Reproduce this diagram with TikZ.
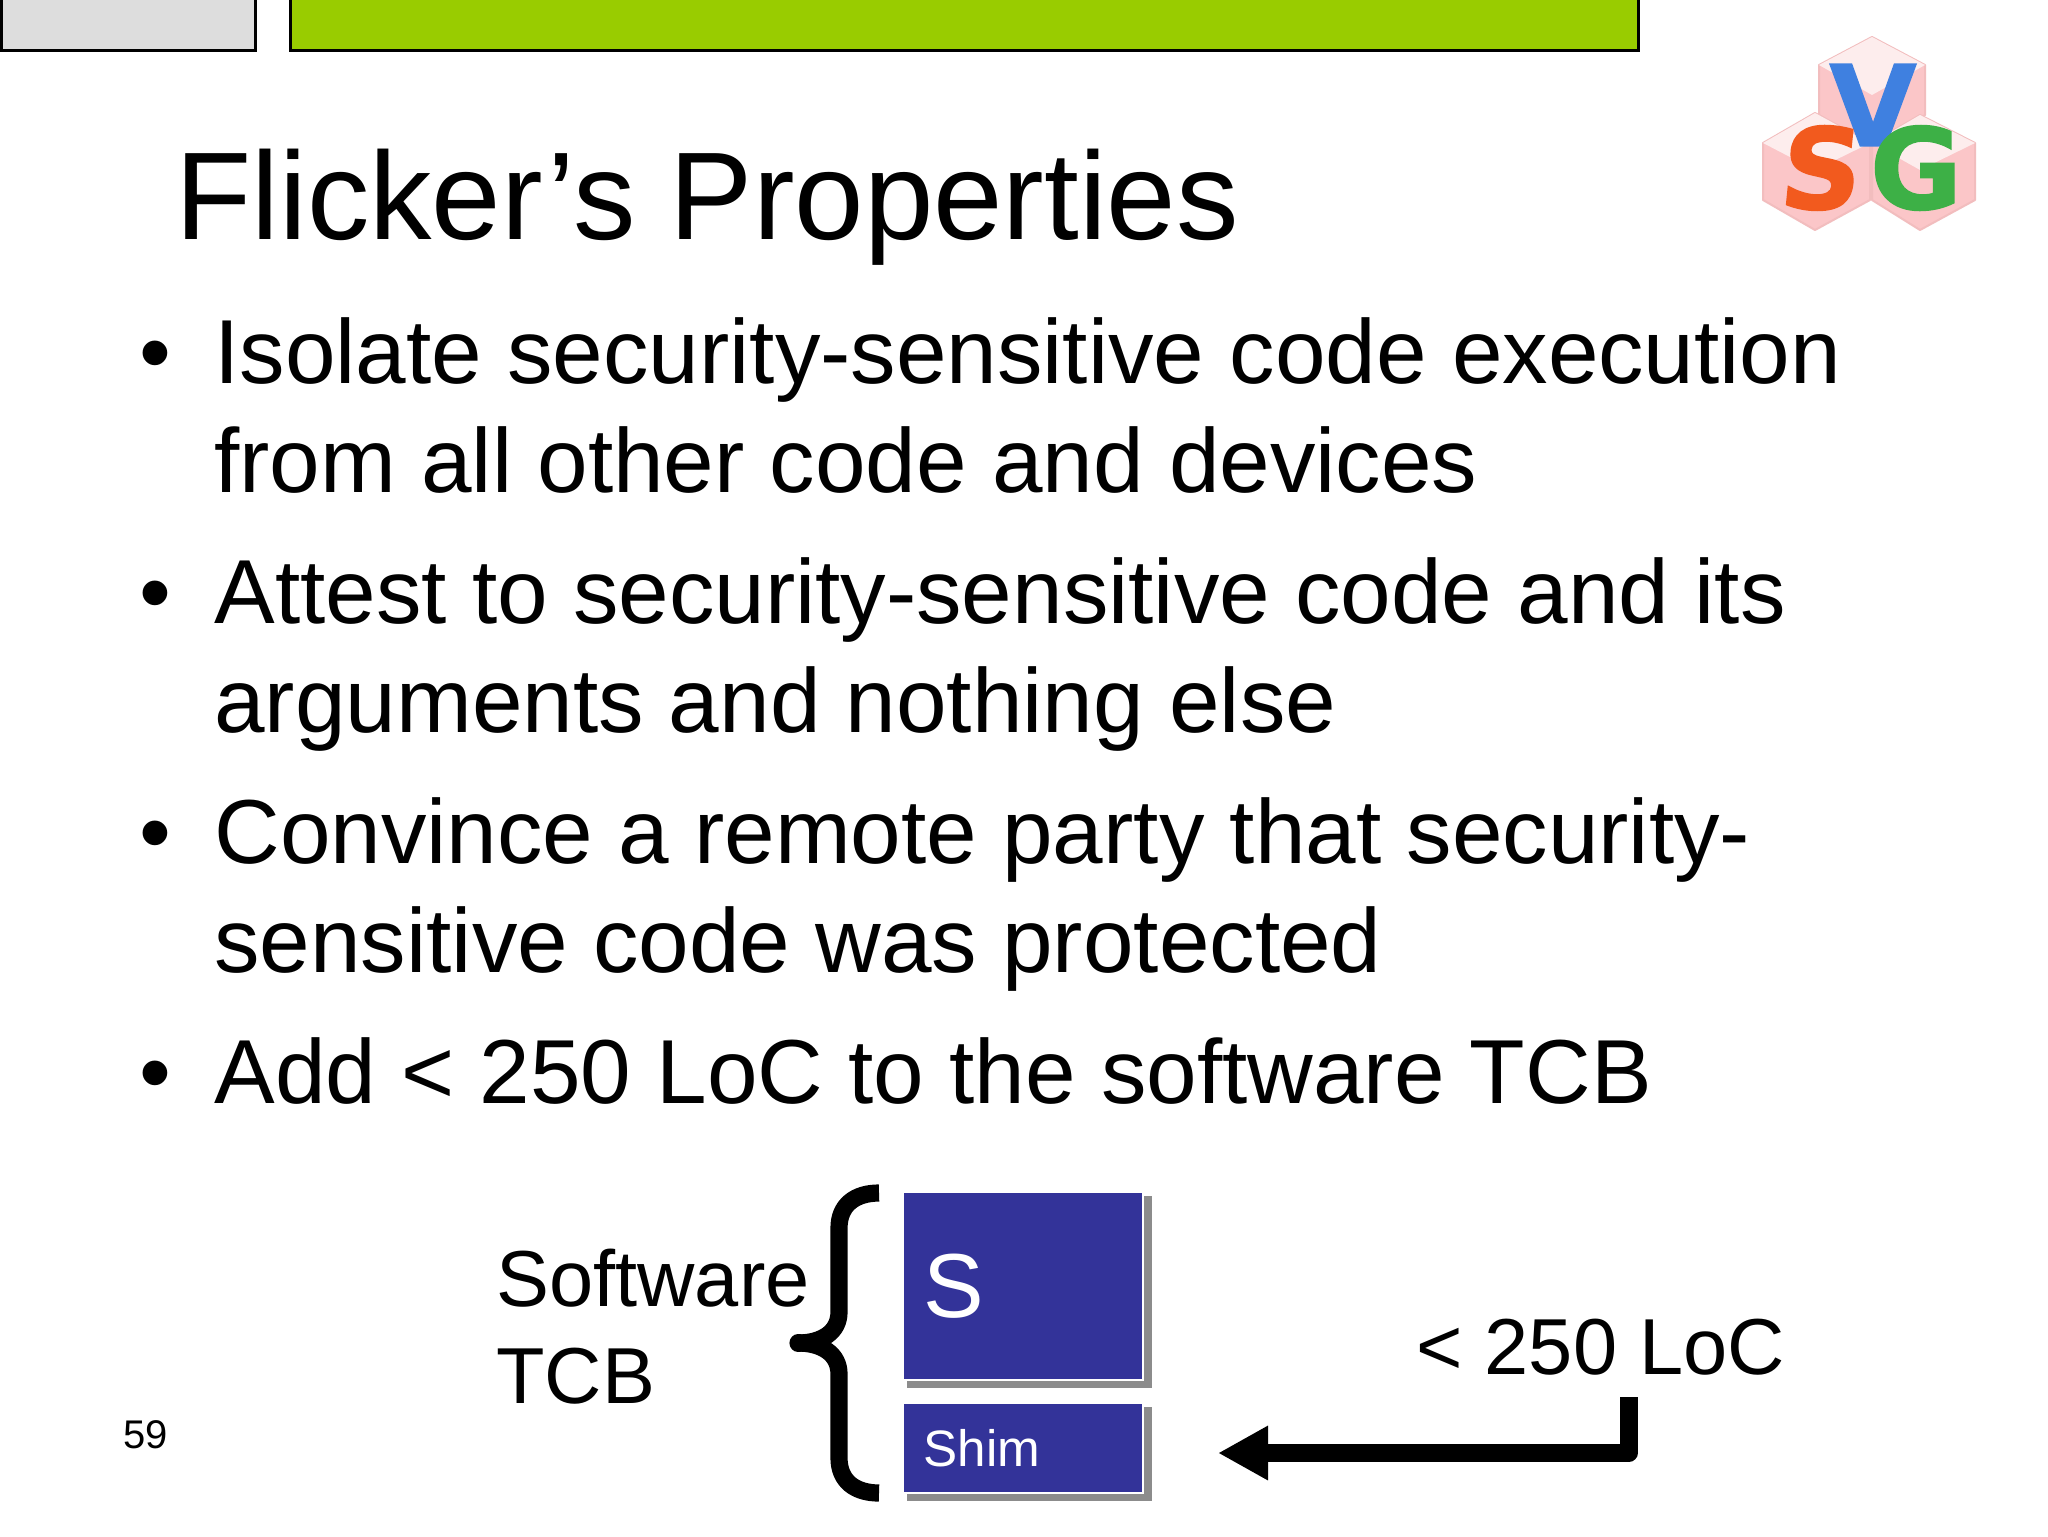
\documentclass[tikz,border=0pt]{standalone}
\usepackage{fontspec}
\setmainfont{Liberation Sans}
\newfontfamily\logofont[BoldFeatures={FakeBold=1.6}]{DejaVu Sans}
\usetikzlibrary{arrows.meta,calc}
\newcommand{\fs}[1]{\fontsize{#1}{#1}\selectfont}
\definecolor{barGray}{HTML}{DDDDDD}
\definecolor{barGreen}{HTML}{99CC00}
\definecolor{boxBlue}{HTML}{333399}
\definecolor{shadowGray}{HTML}{8C8C8C}
\definecolor{hexTop}{HTML}{FDEDED}
\definecolor{hexSide}{HTML}{FBC6C8}
\definecolor{hexEdge}{HTML}{F2BDBE}
\definecolor{logoBlue}{HTML}{3F80E0}
\definecolor{logoOrange}{HTML}{F25A1E}
\definecolor{logoGreen}{HTML}{3DB046}
\tikzset{
  txt/.style={inner sep=0pt,anchor=base west,align=left},
  titletxt/.style={txt,font=\fs{62.4}},
  bodytxt/.style={txt,font=\fontsize{45.45}{54.5}\selectfont},
  dot/.style={txt,font=\fs{45.45}},
  labeltxt/.style={txt,font=\fontsize{39.7}{48.2}\selectfont},
  bar/.style={draw=black,line width=1.5pt},
  stackbox/.style={rectangle,draw=white,line width=0.8pt,fill=boxBlue,text=white,
    minimum width=120pt,inner xsep=10.5pt,inner ysep=0pt,text width=99pt,align=left,anchor=north west},
  shadowfill/.style={fill=shadowGray},
  bracestroke/.style={draw=black,line width=8.6pt},
  thick arrow/.style={draw=black,line width=8.6pt,line join=round,
    -{Triangle[length=25pt,width=25.5pt]}},
  hexa/.style={fill=hexSide,draw=hexEdge,line width=1pt,line join=round},
  hexb/.style={fill=hexTop},
  logoletter/.style={inner sep=0pt,font=\logofont\bfseries\fs{56}},
}
\begin{document}
\begin{tikzpicture}[x=0.5pt,y=-0.5pt]
\useasboundingbox[fill=white] (0,0) rectangle (2048,1536);
% top bars
\draw[bar,fill=barGray] (1,-2) rectangle (255,51);
\draw[bar,fill=barGreen] (290,-2) rectangle (1638,51);
% logo
\draw[hexa] (1872,37) -- (1925,65) -- (1925,115) -- (1872,147) -- (1819,115) -- (1819,65) -- cycle;
\fill[hexb] (1872,37) -- (1925,65) -- (1872,95) -- (1819,65) -- cycle;
\draw[hexa] (1815,113) -- (1870,143) -- (1870,200) -- (1815,230) -- (1763,200) -- (1763,143) -- cycle;
\fill[hexb] (1815,113) -- (1870,143) -- (1815,170) -- (1763,143) -- cycle;
\draw[hexa] (1920,115) -- (1975,143) -- (1975,200) -- (1920,230) -- (1872,200) -- (1872,143) -- cycle;
\fill[hexb] (1920,115) -- (1975,143) -- (1920,170) -- (1872,143) -- cycle;
\node[logoletter,text=logoBlue] (logov) at (1873,105) {V};
\node[logoletter,text=logoOrange,xslant=0.1] (logos) at (1822,168) {S};
\node[logoletter,text=logoGreen] (logog) at (1916,168) {G};
% title
\node[titletxt] (title) at (175,239) {Flicker’s Properties};
% bullets
\node[dot] (b1) at (139,383) {•};
\node[bodytxt] (t1) at (214,492) {Isolate security-sensitive code execution\\from all other code and devices};
\node[dot] (b2) at (139,623) {•};
\node[bodytxt] (t2) at (214,732) {Attest to security-sensitive code and its\\arguments and nothing else};
\node[dot] (b3) at (139,863) {•};
\node[bodytxt] (t3) at (214,972) {Convince a remote party that security-\\sensitive code was protected};
\node[dot] (b4) at (139,1103) {•};
\node[bodytxt] (t4) at (214,1103) {Add < 250 LoC to the software TCB};
% page number
\node[txt,font=\fs{20}] (pagenum) at (123,1448) {59};
% software tcb
\node[labeltxt] (tcb) at (496,1403) {Software\\TCB};
% brace
\draw[bracestroke] (879,1193) .. controls (855,1193) and (839,1205) .. (839,1228)
  -- (839,1312) .. controls (839,1332) and (822,1343) .. (798,1343);
\draw[bracestroke,line cap=round] (798,1343) -- (799,1343);
\draw[bracestroke] (798,1343) .. controls (822,1343) and (839,1354) .. (839,1374)
  -- (839,1458) .. controls (839,1481) and (855,1493) .. (879,1493);
% boxes
\fill[shadowfill] (907,1196) rectangle (1152,1388);
\fill[shadowfill] (907,1407) rectangle (1152,1501);
\node[stackbox,minimum height=94pt,font=\fs{45.45}] (sbox) at (902,1191) {S};
\node[stackbox,minimum height=45pt,font=\fs{25.6}] (shim) at (902,1402) {Shim};
% loc
\node[labeltxt] (loc) at (1416,1374) {< 250 LoC};
\coordinate (arrowstart) at (1629,1397);
\coordinate (arrowend) at (1218,1453);
\draw[thick arrow] (arrowstart) |- (arrowend);
\end{tikzpicture}
\end{document}
